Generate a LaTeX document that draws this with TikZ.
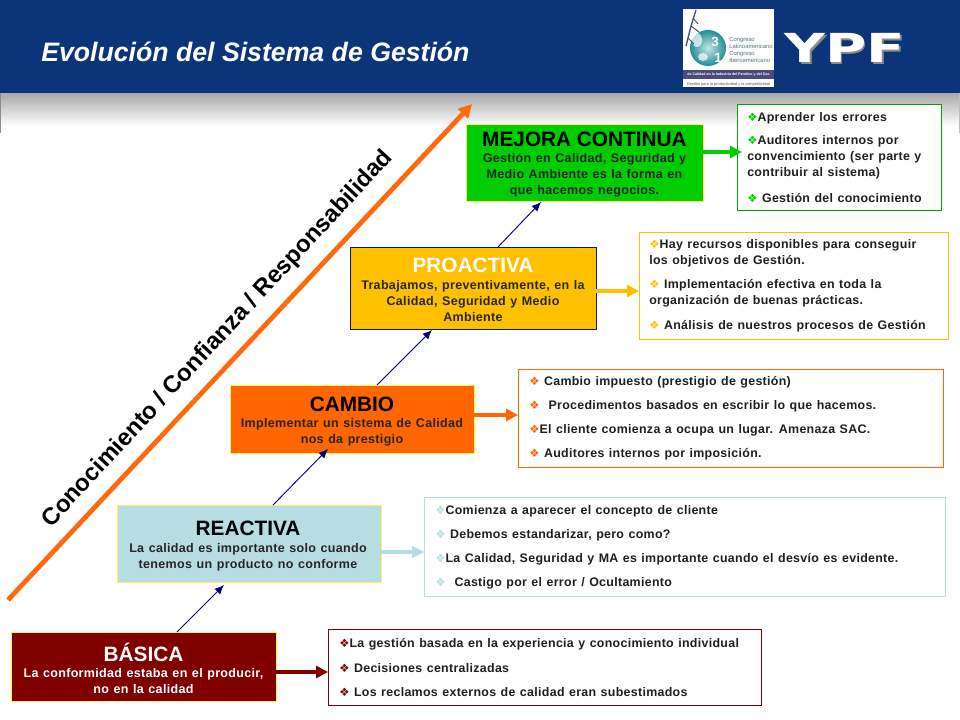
\documentclass[tikz,border=0pt]{standalone}
\usepackage{fontspec}
\setmainfont{Liberation Sans}
\newfontfamily\djfont{DejaVu Sans}
\newfontfamily\bodyf[LetterSpace=2.5,WordSpace=1.2]{Liberation Sans}
\usetikzlibrary{arrows.meta,calc,shadings}
\definecolor{navy}{HTML}{0B3578}
\definecolor{deepblue}{HTML}{000080}
\definecolor{orng}{HTML}{FF6A0D}
\definecolor{maroonb}{HTML}{800000}
\definecolor{paleb}{HTML}{B7DDE3}
\definecolor{chg}{HTML}{FF6600}
\definecolor{gold}{HTML}{FFC000}
\definecolor{grn}{HTML}{00CC00}
\definecolor{globe}{HTML}{1F8F96}
\definecolor{band}{HTML}{4A4A7E}
\tikzset{
 x=0.75pt,y=-0.75pt,
 stage/.style={draw=#1,line width=0.65pt,inner sep=0pt,outer sep=0pt},
 level/.style={anchor=center,font=\bfseries\fontsize{9.4}{12.1}\bodyf,align=center,inner sep=0pt},
 lvltitle/.style={anchor=center,font=\bfseries\fontsize{15.6}{18}\selectfont,inner sep=0pt},
 item/.style={anchor=west,font=\bfseries\fontsize{9.3}{12.2}\bodyf,inner sep=0pt,text=black!88,yshift=-0.75pt},
 rise/.style={draw=deepblue,line width=0.7pt,-{Latex[length=7pt,width=6pt]}},
 feed/.style={line width=3pt,-{Triangle[length=9pt,width=9pt]},draw=#1},
}
\newcommand{\stagebox}[7]{\node[stage=#7,fill=#6,minimum width={(#4-#2)*0.75pt},minimum height={(#5-#3)*0.75pt}] (#1) at ({(#2+#4)/2},{(#3+#5)/2}) {};}
\newcommand{\listbox}[6]{\node[stage=#6,fill=white,minimum width={(#4-#2)*0.75pt},minimum height={(#5-#3)*0.75pt}] (#1) at ({(#2+#4)/2},{(#3+#5)/2}) {};}
\newcommand{\bul}[1]{{\color{#1}\djfont\mdseries\fontsize{8.6}{9}\selectfont ❖}}
\begin{document}
\begin{tikzpicture}
\useasboundingbox (0,0) rectangle (960,720);
\fill[white] (0,0) rectangle (960,720);
% header shadow
\shade[top color=black!34,middle color=black!9,bottom color=white] (0,93) rectangle (960,126);
\fill[black!45] (0,93) rectangle (1,133);
\fill[black!25] (958.5,93) rectangle (960,133);
\fill[navy] (0,0) rectangle (960,93);
\node[anchor=west,text=white,inner sep=0pt,font=\bfseries\itshape\fontsize{20}{24}\selectfont] (title) at (41,52) {Evolución del Sistema de Gestión};
% logo
\node[fill=white,minimum width=68.25pt,minimum height=58.5pt,inner sep=0pt,outer sep=0pt] (logo) at (728.5,48) {};
\shade[inner color=globe!25,outer color=globe] (708,48) circle (18);
\fill[white,opacity=.7] (697,40) ellipse (5 and 7);
\fill[white,opacity=.7] (703,57) ellipse (5 and 4);
\draw[band,line width=1pt] (696,10) -- (691,26) -- (686,46);
\draw[band,line width=.7pt] (691,26) -- (699,32) (688,38) -- (694,44) (693,18) -- (698,24);
\node[text=white,font=\bfseries\fontsize{10}{10}\selectfont,inner sep=0pt] (l3) at (715,42) {3};
\node[text=white,font=\bfseries\fontsize{10}{10}\selectfont,inner sep=0pt] (l1) at (718,58) {1};
\node[anchor=west,align=left,text=globe!40!black!70,inner sep=0pt,font=\fontsize{4.4}{5.2}\selectfont] (lt) at (729,50) {Congreso\\Latinoamericano\\Congreso\\Iberoamericano};
\fill[band] (683,70) rectangle (774,79);
\fill[white] (683,79) rectangle (774,87.5);
\node[text=white,inner sep=0pt,font=\bfseries\fontsize{2.7}{3}\selectfont] (lb) at (728.5,74.5) {de Calidad en la Industria del Petróleo y del Gas};
\node[text=band,inner sep=0pt,font=\fontsize{2.9}{3}\selectfont] (lc) at (728.5,84.5) {Gestión para la productividad y la competitividad};
\node[anchor=center,text=black!45,inner sep=0pt,font=\djfont\bfseries\fontsize{30}{30}\selectfont,xscale=1.41] (ypf0) at (846.5,49.5) {YPF};
\node[anchor=center,text=white,inner sep=0pt,font=\djfont\bfseries\fontsize{30}{30}\selectfont,xscale=1.41] (ypf) at (845,48) {YPF};
% diagonal
\coordinate (diagA) at (8,600);
\coordinate (diagB) at (472,104);
\draw[orng,line width=3.6pt,-{Triangle[length=10pt,width=10pt]}] (diagA) -- (diagB);
\node[rotate=47.2,font=\bfseries\fontsize{17.9}{20}\selectfont,inner sep=0pt,text=black] (know) at (218,339) {Conocimiento / Confianza / Responsabilidad};
% list boxes
\listbox{lb1}{328}{629}{761}{705}{maroonb}
\listbox{lb2}{424}{497}{945}{596}{paleb}
\listbox{lb3}{518}{369}{943}{467}{chg}
\listbox{lb4}{639}{232}{948}{339}{gold}
\listbox{lb5}{737}{104}{941}{210}{grn!80!black}
% stages
\stagebox{s1}{11}{632}{276}{701}{maroonb}{yellow!70}
\stagebox{s2}{117}{505}{381}{582}{paleb}{yellow!70}
\stagebox{s3}{230}{385}{474}{453}{chg}{yellow!70}
\stagebox{s4}{350}{247}{596}{329}{gold}{navy!60!black}
\stagebox{s5}{466}{124}{703}{201}{grn}{yellow!70}
% stage text
\node[lvltitle,text=white] (t1) at (143.5,652) {BÁSICA};
\node[level,text=white] (d1) at (143.5,681) {La conformidad estaba en el producir,\\no en la calidad};
\node[lvltitle] (t2) at (248,528) {REACTIVA};
\node[level,text=black!85] (d2) at (248,557) {La calidad es importante solo cuando\\tenemos un producto no conforme};
\node[lvltitle] (t3) at (352,404) {CAMBIO};
\node[level,text=black!85] (d3) at (352,432.5) {Implementar un sistema de Calidad\\nos da prestigio};
\node[lvltitle,text=white] (t4) at (473,265) {PROACTIVA};
\node[level,text=black!85] (d4) at (473,301) {Trabajamos, preventivamente, en la\\Calidad, Seguridad y Medio\\Ambiente};
\node[lvltitle] (t5) at (584.5,139) {MEJORA CONTINUA};
\node[level,text=black!85] (d5) at (584.5,175.5) {Gestión en Calidad, Seguridad y\\Medio Ambiente es la forma en\\que hacemos negocios.};
% rising arrows
\coordinate (r1) at (224,585);
\coordinate (r2) at (328,449);
\coordinate (r3) at (432,330);
\coordinate (r4) at (541,202);
\draw[rise] ($(s1.north west)+(166,0)$) -- (r1);
\draw[rise] ($(s2.north west)+(156,0)$) -- (r2);
\draw[rise] ($(s3.north west)+(147,0)$) -- (r3);
\draw[rise] ($(s4.north west)+(148,0)$) -- (r4);
% feed arrows
\draw[feed=maroonb] (s1.east |- 0,672) -- (lb1.west |- 0,672);
\draw[feed=paleb] (s2.east |- 0,552) -- (lb2.west |- 0,552);
\draw[feed=chg] (s3.east |- 0,415) -- (lb3.west |- 0,415);
\draw[feed=gold] (s4.east |- 0,291) -- (lb4.west |- 0,291);
\draw[feed=grn] (s5.east |- 0,152) -- ($(lb5.west |- 0,152)+(5,0)$);
% lists
\node[item] (a1) at (339,643) {\bul{maroonb}La gestión basada en la experiencia y conocimiento individual};
\node[item] (a2) at (339,667) {\bul{maroonb} Decisiones centralizadas};
\node[item] (a3) at (339,691) {\bul{maroonb} Los reclamos externos de calidad eran subestimados};
\node[item] (b1) at (435,510) {\bul{paleb}Comienza a aparecer el concepto de cliente};
\node[item] (b2) at (435,534) {\bul{paleb} Debemos estandarizar, pero como?};
\node[item] (b3) at (435,558) {\bul{paleb}La Calidad, Seguridad y MA es importante cuando el desvío es evidente.};
\node[item] (b4) at (435,582) {\bul{paleb}\ \ Castigo por el error / Ocultamiento};
\node[item] (c1) at (529,381) {\bul{chg} Cambio impuesto (prestigio de gestión)};
\node[item] (c2) at (529,405) {\bul{chg}\ \ Procedimentos basados en escribir lo que hacemos.};
\node[item] (c3) at (529,429) {\bul{chg}El cliente comienza a ocupa un lugar. Amenaza SAC.};
\node[item] (c4) at (529,453) {\bul{chg} Auditores internos por imposición.};
\node[item,align=left,anchor=north west] (e1) at (649,238) {\bul{gold}Hay recursos disponibles para conseguir\\los objetivos de Gestión.};
\node[item,align=left,anchor=north west] (e2) at (649,278) {\bul{gold} Implementación efectiva en toda la\\organización de buenas prácticas.};
\node[item] (e3) at (649,325) {\bul{gold} Análisis de nuestros procesos de Gestión};
\node[item] (f1) at (747,117) {\bul{grn}Aprender los errores};
\node[item,align=left,anchor=north west] (f2) at (747,134) {\bul{grn}Auditores internos por\\convencimiento (ser parte y\\contribuir al sistema)};
\node[item] (f3) at (747,197) {\bul{grn} Gestión del conocimiento};
\end{tikzpicture}
\end{document}
